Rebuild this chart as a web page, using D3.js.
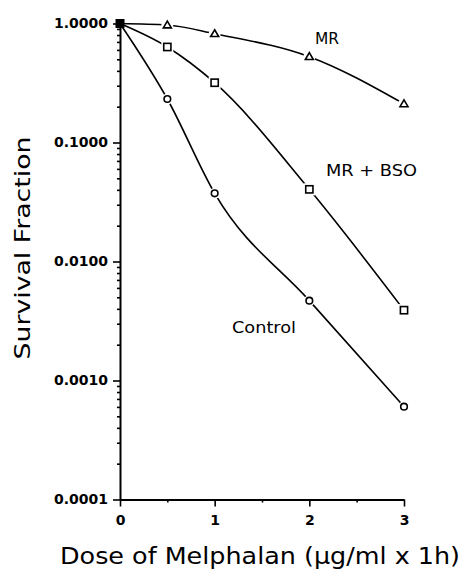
<!DOCTYPE html>
<html><head><meta charset="utf-8">
<script src="https://cdn.jsdelivr.net/npm/d3@7"></script>
<style>body{margin:0;background:#fff}svg{display:block}</style>
</head><body>
<svg id="c" width="473" height="569"></svg>
<script>
const doses = [0, 0.5, 1, 2, 3];
const mrValues = [1.0, 0.97, 0.82, 0.526, 0.211];
const mrBsoValues = [1.0, 0.635, 0.318, 0.0404, 0.0039];
const controlValues = [1.0, 0.232, 0.0374, 0.00469, 0.000603];
const yTickValues = [1, 0.1, 0.01, 0.001, 0.0001];
const yTickLabels = ["1.0000", "0.1000", "0.0100", "0.0010", "0.0001"];
const xTickValues = [0, 1, 2, 3];
const xMinorTicks = [0.5, 1.5, 2.5];
const seriesNames = ["MR", "MR + BSO", "Control"];

const svg = d3.select("#c");
const x = d3.scaleLinear().domain([0, 3]).range([120, 404]);
const y = d3.scaleLog().domain([0.0001, 1]).range([499.5, 23.5]);

const yMinor = [];
for (let e = -4; e < 0; e++) for (let k = 2; k <= 9; k++) yMinor.push(k * Math.pow(10, e));

// y axis
svg.append("g").attr("transform", "translate(120,0)")
  .call(d3.axisLeft(y).tickValues(yTickValues).tickFormat((d, i) => yTickLabels[i]).tickSize(7).tickSizeOuter(0).tickPadding(5));
svg.append("g").attr("transform", "translate(120,0)")
  .call(d3.axisLeft(y).tickValues(yMinor).tickFormat("").tickSize(3).tickSizeOuter(0))
  .select(".domain").remove();
// x axis
svg.append("g").attr("transform", "translate(0,499.5)")
  .call(d3.axisBottom(x).tickValues(xTickValues).tickFormat(d3.format("d")).tickSize(7).tickSizeOuter(0).tickPadding(9));
svg.append("g").attr("transform", "translate(0,499.5)")
  .call(d3.axisBottom(x).tickValues(xMinorTicks).tickFormat("").tickSize(3).tickSizeOuter(0))
  .select(".domain").remove();

svg.selectAll(".domain").attr("stroke", "#000").attr("stroke-width", 2);
svg.selectAll(".tick line").attr("stroke", "#000").attr("stroke-width", 1.6);
svg.selectAll(".tick text").attr("fill", "#000")
  .style("font-family", "'DejaVu Sans', sans-serif").style("font-weight", "bold").style("font-size", "14px");

// Lines
const line = d3.line().x((d, i) => x(doses[i])).y(d => y(d)).curve(d3.curveMonotoneX);
const series = [mrValues, mrBsoValues, controlValues];
const shapes = ["triangle", "square", "circle"];
series.forEach(vals => {
  svg.append("path").attr("d", line(vals)).attr("fill", "none").attr("stroke", "#000").attr("stroke-width", 1.6);
});

function drawMarker(g, shape, cx, cy) {
  if (shape === "circle") {
    g.append("circle").attr("cx", cx).attr("cy", cy).attr("r", 5.5).attr("fill", "#fff");
    g.append("circle").attr("cx", cx).attr("cy", cy).attr("r", 3.3).attr("fill", "#fff").attr("stroke", "#000").attr("stroke-width", 1.6);
  } else if (shape === "square") {
    g.append("rect").attr("x", cx - 6).attr("y", cy - 6).attr("width", 12).attr("height", 12).attr("fill", "#fff");
    g.append("rect").attr("x", cx - 3.6).attr("y", cy - 3.6).attr("width", 7.2).attr("height", 7.2).attr("fill", "#fff").attr("stroke", "#000").attr("stroke-width", 1.6);
  } else {
    g.append("circle").attr("cx", cx).attr("cy", cy).attr("r", 6).attr("fill", "#fff");
    g.append("path").attr("d", `M${cx},${cy - 4} L${cx + 4},${cy + 2.8} L${cx - 4},${cy + 2.8} Z`)
      .attr("fill", "#fff").attr("stroke", "#000").attr("stroke-width", 1.6).attr("stroke-linejoin", "miter");
  }
}
const mg = svg.append("g");
series.forEach((vals, s) => {
  vals.forEach((v, i) => { if (i > 0) drawMarker(mg, shapes[s], x(doses[i]), y(v)); });
});
// overlapping markers at dose 0
mg.append("rect").attr("x", x(0) - 4.5).attr("y", y(1) - 4.5).attr("width", 9).attr("height", 9).attr("fill", "#000");

// series labels
const labelPos = [[315, 44, 24], [326, 176, 91], [232, 333, 64]];
seriesNames.forEach((n, i) => {
  svg.append("text").attr("x", labelPos[i][0]).attr("y", labelPos[i][1]).text(n)
    .attr("textLength", labelPos[i][2]).attr("lengthAdjust", "spacingAndGlyphs")
    .style("font-family", "'DejaVu Sans', sans-serif").style("font-size", "16px").style("font-weight", "500");
});

// axis titles
svg.append("text").attr("transform", "translate(30,248) rotate(-90)").attr("text-anchor", "middle")
  .text("Survival Fraction").attr("textLength", 223).attr("lengthAdjust", "spacingAndGlyphs")
  .style("font-family", "'DejaVu Sans', sans-serif").style("font-size", "22px");
svg.append("text").attr("x", 60).attr("y", 564)
  .text("Dose of Melphalan (\u03bcg/ml x 1h)").attr("textLength", 400).attr("lengthAdjust", "spacingAndGlyphs")
  .style("font-family", "'DejaVu Sans', sans-serif").style("font-size", "23px");
</script>
</body></html>
